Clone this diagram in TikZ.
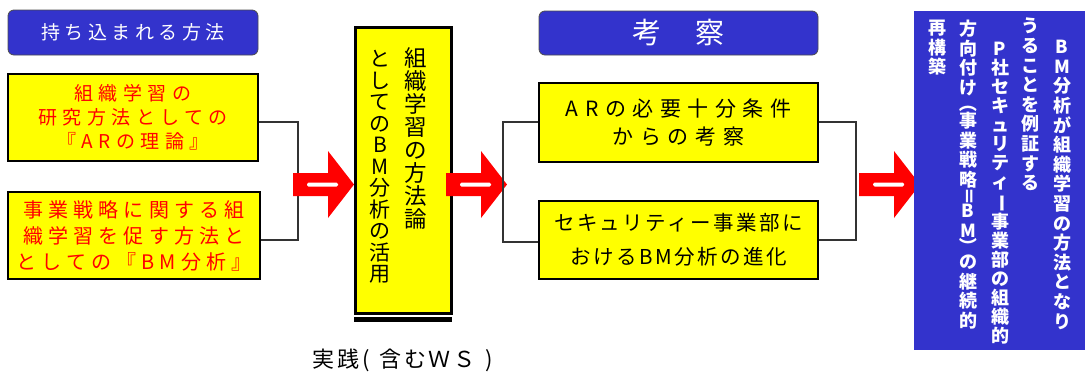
\documentclass[tikz,border=0pt]{standalone}
\usepackage{fontspec}
\usepackage{graphicx}
\newfontfamily\jp{Noto Sans CJK JP}
\definecolor{lblue}{RGB}{51,51,204}
\definecolor{ylw}{RGB}{255,255,0}
\definecolor{rd}{RGB}{255,0,0}
\newcommand{\rot}[1]{\rotatebox[origin=c]{-90}{#1}}
\begin{document}
\begin{tikzpicture}[x=1pt,y=-1pt,
  labelbox/.style={draw=black!70,line width=0.8pt,fill=lblue,rounded corners=6pt,text=white,inner sep=0pt},
  ybox/.style={draw=black,line width=1.2pt,fill=ylw,inner sep=0pt,align=center},
  bracket/.style={draw=black!80,line width=1.2pt},
  vtext/.style={align=center,inner sep=0pt,anchor=north},
  midfont/.style={font={\jp\fontsize{22.5}{23}\selectfont}},
  rfont/.style={font={\jp\bfseries\fontsize{18}{19.6}\selectfont},text=white},
  barrow/.pic={
    \fill[rd] (0,-11.5) -- (35,-11.5) -- (35,-33.5) -- (61,0) -- (35,33.5) -- (35,11.5) -- (0,11.5) -- cycle;
    \fill[white, rounded corners=1.5pt] (14,-2) rectangle (45,2);
  }]
\useasboundingbox (0,0) rectangle (1085,376);

% left column
\node[labelbox, minimum width=250pt, minimum height=45pt] (lab1) at (133,32.5)
  {\jp\fontsize{19}{19}\selectfont\addfontfeature{LetterSpace=24}持ち込まれる方法};
\node[ybox, minimum width=250pt, minimum height=87pt, text=rd,
  font={\jp\fontsize{19}{24}\selectfont\addfontfeature{LetterSpace=29}}] (box1) at (133,117.5)
  {組織学習の\\研究方法としての\\『ARの理論』};
\node[ybox, minimum width=252pt, minimum height=87pt, text=rd,
  font={\jp\fontsize{20}{26}\selectfont\addfontfeature{LetterSpace=26}}] (box2) at (134,235.5)
  {事業戦略に関する組\\織学習を促す方法と\\としての『BM分析』};

\coordinate (j1t) at (298,122);
\coordinate (j1b) at (298,240);
\draw[bracket] (j1t -| box1.east) -- (j1t) -- (j1b) -- (j1b -| box2.east);

% middle box
\fill[black] (354,317) rectangle (452,322);
\node[draw=black, line width=3pt, fill=ylw, minimum width=96pt, minimum height=286pt, inner sep=0pt] (mid) at (403.5,170.5) {};
\node[vtext, midfont] (midR) at (416,47) {組\\織\\学\\習\\の\\方\\法\\論};
\node[vtext, font={\jp\fontsize{21}{21.5}\selectfont}] (midL) at (380,50) {と\\し\\て\\の\\B\\M\\分\\析\\の\\活\\用};
\node (prac) at (403,360) {\jp\fontsize{22}{22}\selectfont\addfontfeature{LetterSpace=12}実践(\hspace{10pt}含むＷＳ\hspace{10pt})};

\pic at (293,184.5) {barrow};
\pic at (446,184.5) {barrow};

% consideration column
\node[labelbox, minimum width=279pt, minimum height=44pt] (lab2) at (678.5,33)
  {\jp\fontsize{29}{29}\selectfont\addfontfeature{LetterSpace=10}考　察};
\node[ybox, minimum width=279pt, minimum height=79pt,
  font={\jp\fontsize{21}{28}\selectfont\addfontfeature{LetterSpace=31}}] (box3) at (678.5,122.5)
  {ARの必要十分条件\\からの考察};
\node[ybox, minimum width=279pt, minimum height=78pt,
  font={\jp\fontsize{20.5}{34}\selectfont\addfontfeature{LetterSpace=12}}] (box4) at (678.5,240)
  {セキュリティー事業部に\\おけるBM分析の進化};

\coordinate (j2t) at (503,122);
\coordinate (j2b) at (503,242);
\draw[bracket] (j2t -| box3.west) -- (j2t) -- (j2b) -- (j2b -| box4.west);
\coordinate (j3t) at (856,122);
\coordinate (j3b) at (856,240);
\draw[bracket] (j3t -| box3.east) -- (j3t) -- (j3b) -- (j3b -| box4.east);

\pic at (859,184.5) {barrow};

% conclusion box
\node[fill=lblue, minimum width=171pt, minimum height=339pt, inner sep=0pt] (concl) at (999.5,180.5) {};
\node[vtext, rfont] (c1) at (1062,40) {B\\M\\分\\析\\が\\組\\織\\学\\習\\の\\方\\法\\と\\な\\り};
\node[vtext, rfont] (c2) at (1030,18) {う\\る\\こ\\と\\を\\例\\証\\す\\る};
\node[vtext, rfont, font={\jp\bfseries\fontsize{18}{19}\selectfont}] (c3) at (1000,42) {P\\社\\セ\\キ\\ュ\\リ\\テ\\ィ\\\rot{ー}\\事\\業\\部\\の\\組\\織\\的};
\node[vtext, rfont] (c4) at (968,20) {方\\向\\付\\け\\[-4pt]\rot{（}\\[-2pt]事\\業\\戦\\略\\[-4pt]\rot{＝}\\[-4pt]B\\M\\[-4pt]\rot{）}\\[-4pt]の\\継\\続\\的};
\node[vtext, rfont] (c5) at (937,20) {再\\構\\築};
\end{tikzpicture}
\end{document}
